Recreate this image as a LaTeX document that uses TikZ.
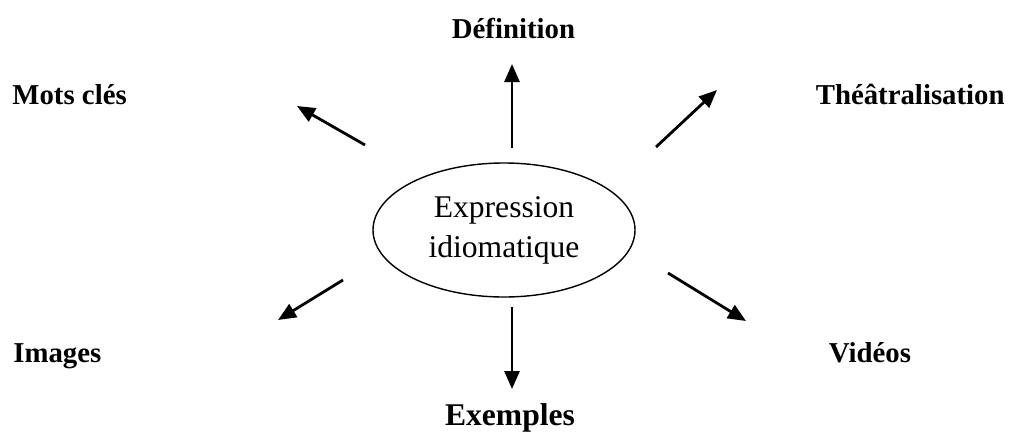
\documentclass[tikz,border=0pt]{standalone}
\usepackage{fontspec}
\setmainfont{Liberation Serif}
\usetikzlibrary{arrows.meta,shapes.geometric}
\begin{document}
\begin{tikzpicture}[x=0.5pt,y=-0.5pt,
  lbl/.style={font=\fontsize{14.4}{17}\selectfont\bfseries, inner sep=0pt},
  arr/.style={line width=1.4pt, -{Triangle[length=9pt,width=7.5pt]}},
  center/.style={ellipse, draw, line width=0.7pt, minimum width=131pt, minimum height=67pt, inner sep=0pt, align=center,
    font=\fontsize{15.8}{20}\selectfont}]
\useasboundingbox (0,0) rectangle (1011,439);
\node[center] (c) at (504,230) {Expression\\idiomatique};
\node[lbl, anchor=base] (def) at (513.5,38) {Définition};
\node[lbl, anchor=base west] (mots) at (12,104) {Mots clés};
\node[lbl, anchor=base east] (theatre) at (1005,104) {Théâtralisation};
\node[lbl, anchor=base west] (img) at (13,362) {Images};
\node[lbl, anchor=base] (vid) at (870,362) {Vidéos};
\node[lbl, anchor=base, font=\fontsize{15.8}{19}\selectfont\bfseries] (ex) at (510,425) {Exemples};
\coordinate (s1) at (365,145); \coordinate (e1) at (297,106);
\coordinate (s2) at (512,148); \coordinate (e2) at (512,64);
\coordinate (s3) at (656,147); \coordinate (e3) at (717,90);
\coordinate (s4) at (343,280); \coordinate (e4) at (278,320);
\coordinate (s5) at (668,273); \coordinate (e5) at (746,321);
\coordinate (s6) at (512,307); \coordinate (e6) at (512,389);
\draw[arr] (s1) -- (e1);
\draw[arr] (s2) -- (e2);
\draw[arr] (s3) -- (e3);
\draw[arr] (s4) -- (e4);
\draw[arr] (s5) -- (e5);
\draw[arr] (s6) -- (e6);
\end{tikzpicture}
\end{document}
